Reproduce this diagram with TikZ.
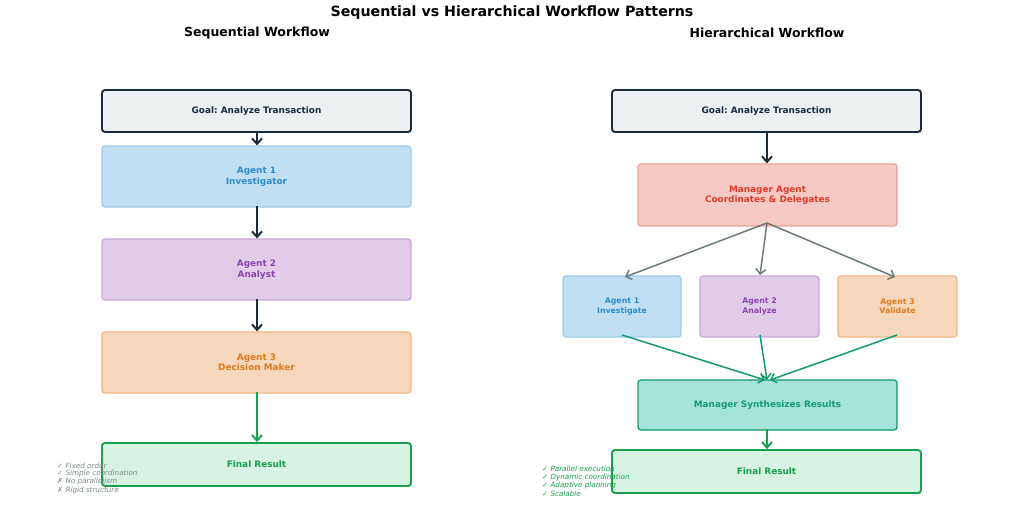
\documentclass[tikz,border=0pt]{standalone}
\usepackage{fontspec}
\setmainfont{DejaVu Sans}
\usetikzlibrary{arrows.meta}
\frenchspacing
\definecolor{darkc}{HTML}{1B2A3D}
\definecolor{goalfill}{HTML}{ECF0F1}
\definecolor{bluefill}{HTML}{C1DFF3}
\definecolor{blueline}{HTML}{9ECBEA}
\definecolor{bluetext}{HTML}{2E8BD0}
\definecolor{purfill}{HTML}{E0CCE8}
\definecolor{purline}{HTML}{C9A8D9}
\definecolor{purtext}{HTML}{8E44AD}
\definecolor{orfill}{HTML}{F7D7BC}
\definecolor{orline}{HTML}{F0B887}
\definecolor{ortext}{HTML}{E07B20}
\definecolor{grfill}{HTML}{D6F3E3}
\definecolor{grline}{HTML}{1AA150}
\definecolor{grtext}{HTML}{18A04E}
\definecolor{redfill}{HTML}{F6C9C4}
\definecolor{redline}{HTML}{F1A097}
\definecolor{redtext}{HTML}{E23B2E}
\definecolor{tealfill}{HTML}{A6E3D8}
\definecolor{tealline}{HTML}{129A73}
\definecolor{tealtext}{HTML}{139A77}
\definecolor{grayarr}{HTML}{6B7B7B}
\definecolor{notegray}{HTML}{7F8C8D}
\tikzset{
  box/.style={rounded corners=3pt, line width=1.3pt, align=center, inner sep=0pt,
    font=\fontsize{8.9}{10.5}\selectfont\bfseries},
  goalbox/.style={box, draw=darkc, fill=goalfill, line width=1.9pt, text=darkc},
  bluebox/.style={box, draw=blueline, fill=bluefill, text=bluetext},
  purbox/.style={box, draw=purline, fill=purfill, text=purtext},
  orbox/.style={box, draw=orline, fill=orfill, text=ortext},
  finalbox/.style={box, draw=grline, fill=grfill, text=grtext, line width=1.9pt},
  redbox/.style={box, draw=redline, fill=redfill, text=redtext},
  tealbox/.style={box, draw=tealline, fill=tealfill, text=tealtext},
  small/.style={font=\fontsize{7.8}{9.3}\selectfont\bfseries},
  darkarr/.style={draw=darkc, line width=2pt, -{Straight Barb[length=5.5pt,width=10pt,line width=2pt]}},
  greenarr/.style={draw=grline, line width=2pt, -{Straight Barb[length=5.5pt,width=10pt,line width=2pt]}},
  grayarrow/.style={draw=grayarr, line width=1.5pt, -{Straight Barb[length=5pt,width=10pt,line width=1.5pt]}},
  tealarrow/.style={draw=tealline, line width=1.5pt, -{Straight Barb[length=5pt,width=10pt,line width=1.5pt]}},
  note/.style={anchor=west, inner sep=0pt, font=\fontsize{7.2}{8}\selectfont\itshape},
  ttl/.style={font=\fontsize{12.5}{14}\selectfont\bfseries, inner sep=0pt}
}
\begin{document}
\begin{tikzpicture}[x=1pt,y=-1pt]
\useasboundingbox[fill=white] (0,0) rectangle (1024,508);
% titles
\node[inner sep=0pt, font=\fontsize{14.2}{16}\selectfont\bfseries] (title) at (512,13) {Sequential vs Hierarchical Workflow Patterns};
\node[ttl] (lt) at (257,33) {Sequential Workflow};
\node[ttl] (rt) at (767,33) {Hierarchical Workflow};
% left
\node[goalbox, minimum width=309pt, minimum height=42pt] (lg) at (256.5,111) {Goal: Analyze Transaction};
\node[bluebox, minimum width=309pt, minimum height=61pt] (la1) at (256.5,176.5) {Agent 1\\Investigator};
\node[purbox, minimum width=309pt, minimum height=61pt] (la2) at (256.5,269.5) {Agent 2\\Analyst};
\node[orbox, minimum width=309pt, minimum height=61pt] (la3) at (256.5,362.5) {Agent 3\\Decision Maker};
\node[finalbox, minimum width=309pt, minimum height=43pt] (lf) at (256.5,464.5) {Final Result};
\draw[darkarr] (257,131) -- (la1.north -| 257,0);
\draw[darkarr] (257,206) -- (la2.north -| 257,0);
\draw[darkarr] (257,299) -- (la3.north -| 257,0);
\draw[greenarr] (257,392) -- (lf.north -| 257,0);
% right
\node[goalbox, minimum width=309pt, minimum height=42pt] (rg) at (766.5,111) {Goal: Analyze Transaction};
\node[redbox, minimum width=259pt, minimum height=62pt] (rm) at (767.5,195) {Manager Agent\\Coordinates \& Delegates};
\node[bluebox, small, minimum width=118pt, minimum height=61pt] (ra1) at (622,306.5) {Agent 1\\Investigate};
\node[purbox, small, minimum width=119pt, minimum height=61pt] (ra2) at (759.5,306.5) {Agent 2\\Analyze};
\node[orbox, small, minimum width=119pt, minimum height=61pt] (ra3) at (897.5,306.5) {Agent 3\\Validate};
\node[tealbox, minimum width=259pt, minimum height=50pt] (rs) at (767.5,405) {Manager Synthesizes Results};
\node[finalbox, minimum width=309pt, minimum height=43pt] (rf) at (766.5,471.5) {Final Result};
\coordinate (mb) at (767,223);
\draw[darkarr] (767,131) -- (rm.north -| 767,0);
\draw[grayarrow] (mb) -- (625,277);
\draw[grayarrow] (mb) -- (760,275);
\draw[grayarrow] (mb) -- (895,277);
\coordinate (t1) at (765,380);
\coordinate (t2) at (767,380);
\coordinate (t3) at (770,380);
\draw[tealarrow] (622,335) -- (t1);
\draw[tealarrow] (760,335) -- (t2);
\draw[tealarrow] (897,335) -- (t3);
\draw[greenarr] (767,429) -- (rf.north -| 767,0);
% notes
\node[note, text=notegray] (n1) at (57,465.5) {✓ Fixed order};
\node[note, text=notegray] (n2) at (57,473.7) {✓ Simple coordination};
\node[note, text=notegray] (n3) at (57,481.9) {✗ No parallelism};
\node[note, text=notegray] (n4) at (57,490.1) {✗ Rigid structure};
\node[note, text=grtext] (m1) at (542,469) {✓ Parallel execution};
\node[note, text=grtext] (m2) at (542,477.2) {✓ Dynamic coordination};
\node[note, text=grtext] (m3) at (542,485.4) {✓ Adaptive planning};
\node[note, text=grtext] (m4) at (542,493.6) {✓ Scalable};
\end{tikzpicture}
\end{document}
